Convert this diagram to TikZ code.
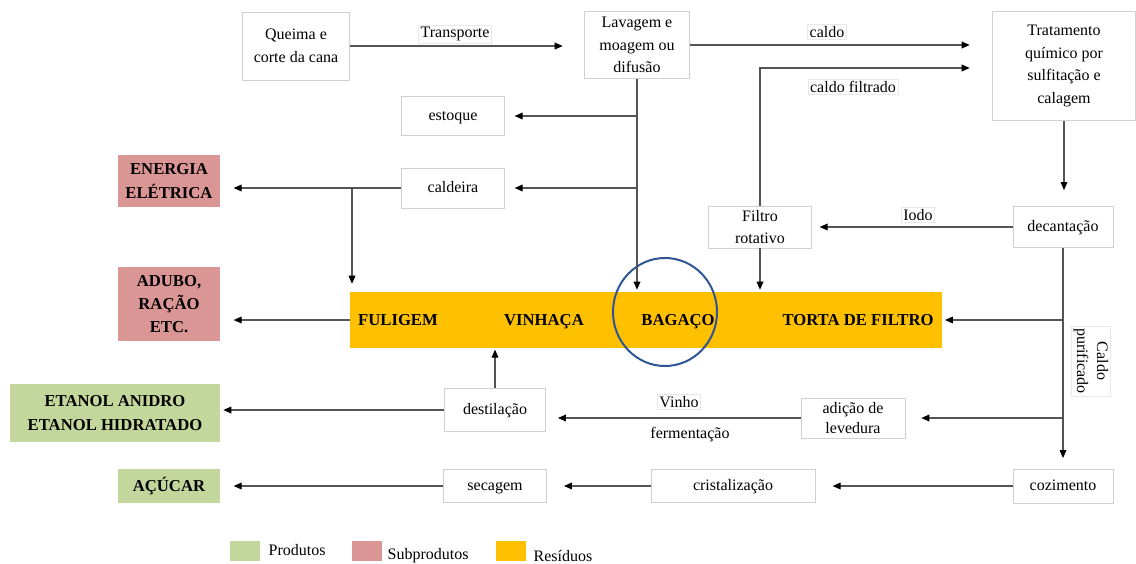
\documentclass[tikz,border=0pt]{standalone}
\usepackage{fontspec}
\setmainfont{Liberation Serif}
\usetikzlibrary{arrows.meta,calc}
\definecolor{lgray}{HTML}{D0D0D0}
\definecolor{prodc}{HTML}{C3D69B}
\definecolor{subc}{HTML}{D99694}
\definecolor{resc}{HTML}{FFC000}
\definecolor{circc}{HTML}{2F5597}
\definecolor{linec}{HTML}{555555}
\begin{document}
\begin{tikzpicture}[x=0.75pt,y=-0.75pt,
  font=\fontsize{12}{17}\selectfont,
  box/.style={draw=lgray, fill=white, align=center, inner sep=1.5pt},
  boxone/.style={draw=lgray, fill=white, inner sep=1.5pt, text height=8.5pt, text depth=2.5pt},
  sub/.style={fill=subc, align=center, inner sep=1.5pt, font=\fontsize{12.5}{17.5}\selectfont\bfseries},
  prod/.style={fill=prodc, align=center, inner sep=1.5pt, font=\fontsize{12.5}{17.5}\selectfont\bfseries},
  res/.style={font=\fontsize{12.5}{15}\selectfont\bfseries, text height=8.5pt, text depth=1pt},
  lbl/.style={draw=gray!18, fill=white, inner sep=1.5pt},
  arr/.style={draw=linec, line width=0.9pt, -{Triangle[length=6pt,width=5pt,color=black]}},
  ln/.style={draw=linec, line width=0.9pt}
]
\useasboundingbox (0,0) rectangle (1136,564);

% process boxes
\node[box, minimum width=80pt, minimum height=51pt] (q) at (296,46) {Queima e\\corte da cana};
\node[box, minimum width=79pt, minimum height=50pt] (lav) at (637,45) {Lavagem e\\moagem ou\\difusão};
\node[box, minimum width=107pt, minimum height=82pt] (trat) at (1064,66) {Tratamento\\químico por\\sulfitação e\\calagem};
\node[boxone, minimum width=77pt, minimum height=29pt] (est) at (453,116) {estoque};
\node[boxone, minimum width=77pt, minimum height=30pt] (cal) at (453,188) {caldeira};
\node[box, minimum width=77pt, minimum height=31.5pt, font=\fontsize{12}{16}\selectfont] (fil) at (760,227) {Filtro\\rotativo};
\node[boxone, minimum width=75pt, minimum height=31pt] (dec) at (1063,227) {decantação};
\node[box, minimum width=78pt, minimum height=30pt, font=\fontsize{12}{15.5}\selectfont] (adi) at (853,418) {adição de\\levedura};
\node[boxone, minimum width=76pt, minimum height=32pt] (des) at (495,410) {destilação};
\node[boxone, minimum width=75pt, minimum height=25.5pt] (coz) at (1063,486) {cozimento};
\node[boxone, minimum width=123pt, minimum height=25pt] (cri) at (733,486) {cristalização};
\node[boxone, minimum width=77pt, minimum height=25pt] (sec) at (495,486) {secagem};

% products / by-products
\node[sub, minimum width=76.5pt, minimum height=39pt] (ener) at (169,181) {ENERGIA\\ELÉTRICA};
\node[sub, minimum width=76.5pt, minimum height=55.5pt] (adubo) at (169,304) {ADUBO,\\RAÇÃO\\ETC.};
\node[prod, minimum width=158pt, minimum height=43pt] (etanol) at (115,413) {ETANOL ANIDRO\\ETANOL HIDRATADO};
\node[prod, minimum width=76.5pt, minimum height=25.5pt] (acu) at (169,486) {AÇÚCAR};

% residues bar
\node[fill=resc, minimum width=444pt, minimum height=42pt, inner sep=0pt] (bar) at (646,320) {};
\node[res] (tful) at (398,320) {FULIGEM};
\node[res] (tvin) at (544,320) {VINHAÇA};
\node[res] (tbag) at (678,320) {BAGAÇO};
\node[res] (ttor) at (858,320) {TORTA DE FILTRO};
\draw[circc, line width=1.5pt] (665,312) ellipse [x radius=39pt, y radius=40.5pt];

% connectors
\draw[arr, shorten >=16pt] (q.east) -- (q.east -| lav.west);
\node[lbl] (ltra) at (455,34) {Transporte};
\draw[arr, shorten >=17pt] (lav.east) -- (lav.east -| trat.west);
\node[lbl] (lcal) at (827,32) {caldo};
\draw[arr, shorten >=17pt] (fil.north) |- ($(trat.west)+(0,2)$);
\node[lbl] (lcf) at (853,87) {caldo filtrado};
\draw[arr, shorten >=12pt] (trat.south) -- (trat.south |- dec.north);
\draw[arr, shorten >=6pt] (dec.west) -- (fil.east);
\node[lbl] (liod) at (918,215) {Iodo};
\draw[arr, shorten >=1.5pt] (fil.south) -- (fil.south |- bar.north);

\draw[arr, shorten >=1.5pt] (lav.south) -- (lav.south |- bar.north);
\draw[arr, shorten >=7.5pt] (lav.south |- est.east) -- (est.east);
\draw[arr, shorten >=7.5pt] (lav.south |- cal.east) -- (cal.east);
\draw[arr, shorten >=10pt] (cal.west) -- (cal.west -| ener.east);
\coordinate (b3) at (352,188);
\draw[arr, shorten >=6pt] (b3) -- (b3 |- bar.north);
\draw[arr, shorten >=10pt] (bar.west) -- (bar.west -| adubo.east);

\draw[arr, shorten >=8pt] (dec.south) -- (dec.south |- coz.north);
\draw[arr, shorten >=2pt] (dec.south |- bar.east) -- (bar.east);
\draw[arr, shorten >=12pt] (dec.south |- adi.east) -- (adi.east);
\node[lbl, rotate=-90, align=center, font=\fontsize{12}{15}\selectfont] (lcp) at (1091,361) {Caldo\\purificado};

\draw[arr, shorten >=9pt] (adi.west) -- (adi.west -| des.east);
\node[lbl] (lvin) at (679,402) {Vinho};
\node (lfer) at (690,435) {fermentação};
\draw[arr, shorten >=1pt] (des.north) -- (des.north |- bar.south);
\draw[arr, shorten >=2pt] (des.west) -- (des.west -| etanol.east);

\draw[arr, shorten >=13pt] (coz.west) -- (cri.east);
\draw[arr, shorten >=13pt] (cri.west) -- (sec.east);
\draw[arr, shorten >=10pt] (sec.west) -- (acu.east);

% legend
\node[fill=prodc, minimum width=23pt, minimum height=15pt, inner sep=0pt] (lg1) at (245,551) {};
\node[anchor=west] (lt1) at (264,550) {Produtos};
\node[fill=subc, minimum width=23pt, minimum height=15pt, inner sep=0pt] (lg2) at (367,551) {};
\node[anchor=west] (lt2) at (383,556) {Subprodutos};
\node[fill=resc, minimum width=23pt, minimum height=15pt, inner sep=0pt] (lg3) at (511,551) {};
\node[anchor=west] (lt3) at (529,556) {Resíduos};
\end{tikzpicture}
\end{document}
